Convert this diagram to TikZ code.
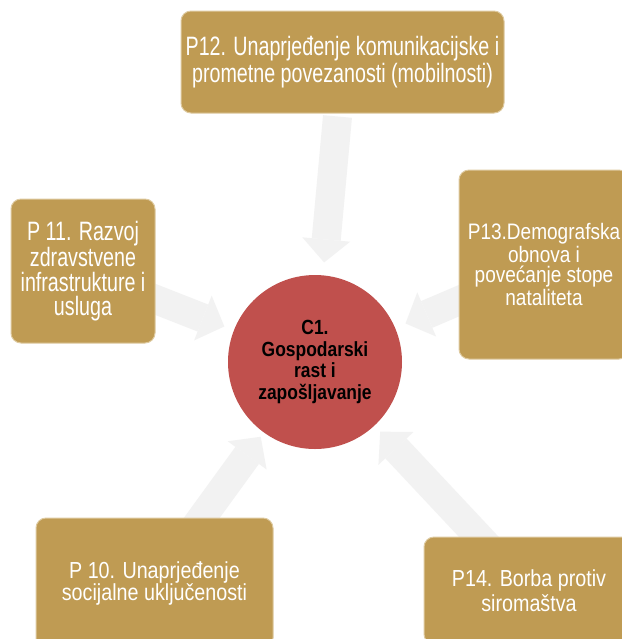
\documentclass[tikz,border=0pt]{standalone}
\usepackage{fontspec}
\usepackage{tikz}
\usetikzlibrary{arrows.meta,backgrounds}
\newfontfamily\tallfont[FakeStretch=0.74]{Liberation Sans}
\newfontfamily\widefont[FakeStretch=0.85]{Liberation Sans}
\definecolor{goldbox}{RGB}{191,155,83}
\definecolor{goldrim}{RGB}{222,202,160}
\definecolor{corered}{RGB}{192,80,77}
\definecolor{arrowgray}{RGB}{242,242,242}
\tikzset{
    goalbox/.style={
        rectangle,
        rounded corners=5pt,
        fill=goldbox,
        draw=goldrim,
        line width=0.5pt,
        text=white,
        align=center,
        inner sep=0pt
    },
    % central goal
    corecircle/.style={
        circle,
        fill=corered,
        minimum size=87pt,
        inner sep=0pt,
        text=black,
        align=center
    },
    bigarrow/.style={
        draw=arrowgray,
        line width=14.5pt,
        -{Triangle[length=11.5pt, width=24pt, line width=0pt]},
        shorten <=-8pt
    }
}

\begin{document}
\begin{tikzpicture}[x=0.5pt,y=-0.5pt]
   \clip (0,0) rectangle (622,639);
   \node[corecircle, font={\widefont\fontsize{10.25}{10.85}\selectfont\bfseries}] (c1) at (315,362)
        {C1.\\Gospodarski\\rast i\\zapošljavanje};
   \node[goalbox, minimum width=161.5pt, minimum height=51pt,
         font={\tallfont\fontsize{13.3}{11.5}\selectfont}] (p12) at (342.5,62)
        {P12. Unaprjeđenje komunikacijske i\\prometne povezanosti (mobilnosti)};
   \node[goalbox, minimum width=72pt, minimum height=72pt,
         font={\tallfont\fontsize{13.3}{12.15}\selectfont}] (p11) at (83,271)
        {P 11. Razvoj\\zdravstvene\\infrastrukture i\\usluga};
   \node[goalbox, minimum width=85pt, minimum height=94.5pt,
         font={\widefont\fontsize{11.2}{9.9}\selectfont}] (p13) at (544,264.5)
        {P13.Demografska\\obnova i\\povećanje stope\\nataliteta};
   \node[goalbox, minimum width=118.5pt, minimum height=65pt,
         font={\widefont\fontsize{11.6}{11}\selectfont}] (p10) at (154.5,583)
        {P 10. Unaprjeđenje\\socijalne uključenosti};
   \node[goalbox, minimum width=105pt, minimum height=53.5pt,
         font={\widefont\fontsize{11.6}{12.5}\selectfont}] (p14) at (529,590.5)
        {P14. Borba protiv\\siromaštva};
   \begin{scope}[on background layer]
     \fill[white] (0,0) rectangle (622,639);
     \draw[bigarrow, shorten <=1.5pt, shorten >=6.3pt] (p12) -- (c1);
     \draw[bigarrow, shorten >=5pt] (p11) -- (c1);
     \draw[bigarrow, shorten >=5.5pt] (p13) -- (c1);
     \draw[bigarrow, shorten >=2.5pt] (p10) -- (c1);
     \draw[bigarrow, shorten >=4pt] (p14) -- (c1);
   \end{scope}
\end{tikzpicture}
\end{document}
